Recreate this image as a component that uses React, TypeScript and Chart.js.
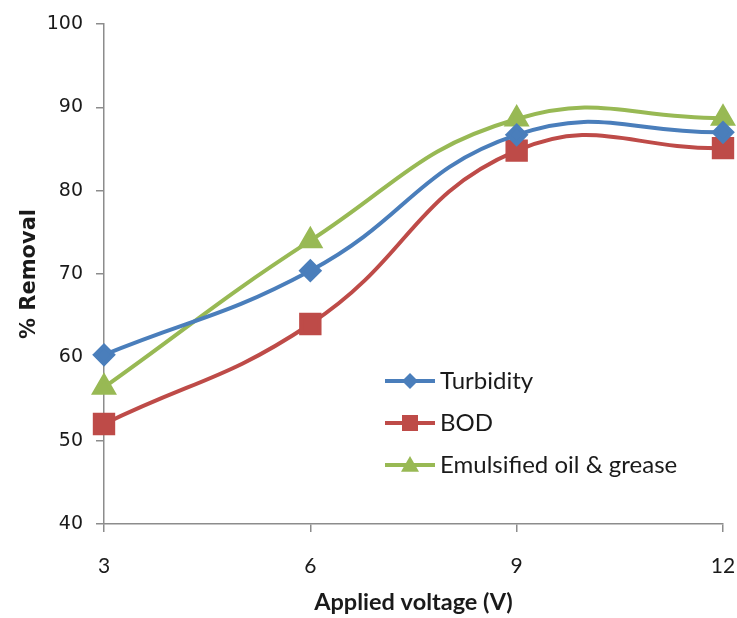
import React, { useEffect, useRef } from "react";
import { Chart, registerables } from "chart.js";

Chart.register(...registerables);

const voltages = [3, 6, 9, 12];
const turbidity = [60.3, 70.4, 86.7, 87.0];
const bod = [52.0, 64.0, 84.8, 85.1];
const oilGrease = [56.4, 74.0, 88.6, 88.7];
const seriesNames = ["Turbidity", "BOD", "Emulsified oil & grease"];
const xTicks = [3, 6, 9, 12];
const yTicks = [40, 50, 60, 70, 80, 90, 100];

const BLUE = "#4A7EBB";
const RED = "#BE4B48";
const GREEN = "#98B954";

const legendPlugin = {
  id: "insideLegend",
  afterDraw(chart: any) {
    const ctx = chart.ctx;
    const x0 = 385;
    const x1 = 435;
    const ys = [381, 423, 465];
    ctx.save();
    chart.data.datasets.forEach((ds: any, i: number) => {
      const y = ys[i];
      ctx.strokeStyle = ds.borderColor;
      ctx.lineWidth = 4;
      ctx.beginPath();
      ctx.moveTo(x0, y);
      ctx.lineTo(x1, y);
      ctx.stroke();
      ctx.fillStyle = ds.backgroundColor;
      const xm = (x0 + x1) / 2;
      ctx.beginPath();
      if (ds.pointStyle === "rectRot") {
        const r = 8;
        ctx.moveTo(xm, y - r);
        ctx.lineTo(xm + r, y);
        ctx.lineTo(xm, y + r);
        ctx.lineTo(xm - r, y);
      } else if (ds.pointStyle === "rect") {
        const r = 8;
        ctx.rect(xm - r, y - r, 2 * r, 2 * r);
      } else {
        const r = 9;
        ctx.moveTo(xm, y - r);
        ctx.lineTo(xm + r, y + r * 0.75);
        ctx.lineTo(xm - r, y + r * 0.75);
      }
      ctx.closePath();
      ctx.fill();
      ctx.fillStyle = "#1a1a1a";
      ctx.font = "24px Lato";
      ctx.textBaseline = "middle";
      ctx.textAlign = "left";
      ctx.fillText(ds.label, 440, y);
    });
    ctx.restore();
  },
};

export default function App() {
  const ref = useRef<HTMLCanvasElement | null>(null);
  useEffect(() => {
    document.body.style.margin = "0";
    const mk = (vals: number[]) => voltages.map((v, i) => ({ x: v, y: vals[i] }));
    const chart = new Chart(ref.current as HTMLCanvasElement, {
      type: "line",
      data: {
        datasets: [
          {
            label: seriesNames[0],
            data: mk(turbidity),
            borderColor: BLUE,
            backgroundColor: BLUE,
            pointStyle: "rectRot",
            pointRadius: 9,
            borderWidth: 4,
            tension: 0.45,
            clip: false,
          },
          {
            label: seriesNames[1],
            data: mk(bod),
            borderColor: RED,
            backgroundColor: RED,
            pointStyle: "rect",
            pointRadius: 13,
            borderWidth: 4,
            tension: 0.45,
            clip: false,
          },
          {
            label: seriesNames[2],
            data: mk(oilGrease),
            borderColor: GREEN,
            backgroundColor: GREEN,
            pointStyle: "triangle",
            pointRadius: 11,
            borderWidth: 4,
            tension: 0.45,
            clip: false,
          },
        ] as any,
      },
      options: {
        animation: false,
        responsive: false,
        layout: { autoPadding: false, padding: { top: 24, right: 14, left: 0, bottom: 0 } },
        plugins: { legend: { display: false }, tooltip: { enabled: false } },
        scales: {
          x: {
            type: "linear",
            min: 3,
            max: 12,
            afterBuildTicks: (s: any) => {
              s.ticks = xTicks.map((v) => ({ value: v }));
            },
            afterFit: (s: any) => {
              s.height = 94;
              s.paddingLeft = 0;
              s.paddingRight = 0;
            },
            grid: { drawOnChartArea: false, drawTicks: true, tickLength: 8, color: "#8c8c8c", lineWidth: 1.5 },
            border: { color: "#8c8c8c", width: 1.5 },
            ticks: { color: "#1a1a1a", font: { family: "Lato", size: 21 }, padding: 22 },
            title: {
              display: true,
              text: "Applied voltage (V)",
              color: "#1a1a1a",
              font: { family: "Lato", size: 23.5, weight: "bold" },
              padding: { top: 0, bottom: 1 },
            },
          },
          y: {
            min: 40,
            max: 100,
            afterBuildTicks: (s: any) => {
              s.ticks = yTicks.map((v) => ({ value: v }));
            },
            afterFit: (s: any) => {
              s.width = 104;
              s.paddingTop = 0;
              s.paddingBottom = 0;
            },
            grid: { drawOnChartArea: false, drawTicks: true, tickLength: 8, color: "#8c8c8c", lineWidth: 1.5 },
            border: { color: "#8c8c8c", width: 1.5 },
            ticks: { color: "#1a1a1a", font: { family: "DejaVu Sans", size: 19 }, padding: 13 },
            title: {
              display: true,
              text: "% Removal",
              color: "#1a1a1a",
              font: { family: "DejaVu Sans", size: 21, weight: "bold" },
              padding: { top: 17, bottom: 0 },
            },
          },
        },
      } as any,
      plugins: [legendPlugin],
    });
    return () => chart.destroy();
  }, []);
  return (
    <div style={{ position: "absolute", left: 0, top: 0, width: 737, height: 618, background: "#fff" }}>
      <canvas ref={ref} width={737} height={618} style={{ width: 737, height: 618, display: "block" }} />
    </div>
  );
}
